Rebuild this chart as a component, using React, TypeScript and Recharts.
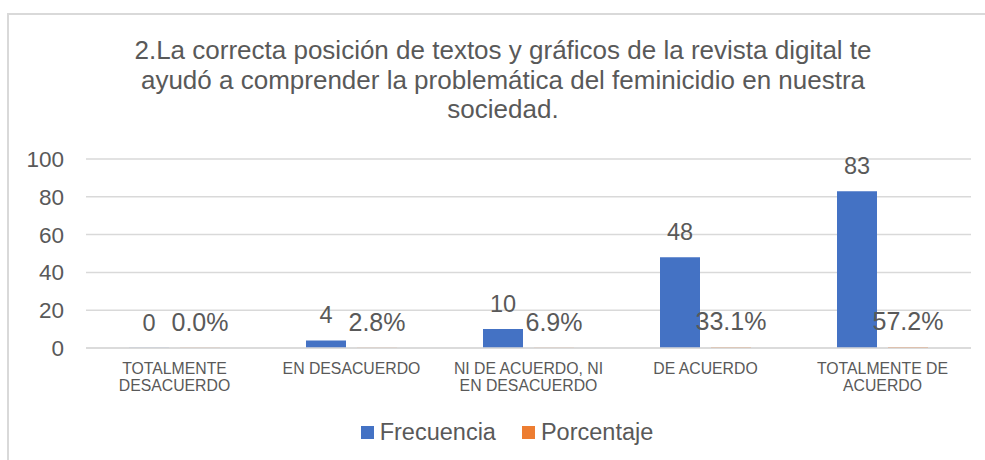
import { BarChart, Bar, XAxis, YAxis, CartesianGrid, Legend, LabelList } from 'recharts'

const categories = [
  'TOTALMENTE DESACUERDO',
  'EN DESACUERDO',
  'NI DE ACUERDO, NI EN DESACUERDO',
  'DE ACUERDO',
  'TOTALMENTE DE ACUERDO',
]
const frecuencia = [0, 4, 10, 48, 83]
const porcentaje = [0, 0.028, 0.069, 0.331, 0.572]
const yTicks = [0, 20, 40, 60, 80, 100]

const titleText =
  '2.La correcta posición de textos y gráficos de la revista digital te ayudó a comprender la problemática del feminicidio en nuestra sociedad.'

const FONT = '"Liberation Sans", Arial, sans-serif'
const TEXT = '#595959'
const BLUE = '#4472C4'
const ORANGE = '#ED7D31'

const data = categories.map((name, i) => ({
  name,
  Frecuencia: frecuencia[i],
  Porcentaje: porcentaje[i],
}))

// split a label into lines of at most maxChars characters
function wrap(label: string, maxChars = 17) {
  const lines: string[] = []
  let cur = ''
  for (const w of label.split(' ')) {
    const next = cur ? cur + ' ' + w : w
    if (next.length > maxChars && cur) {
      lines.push(cur)
      cur = w
    } else {
      cur = next
    }
  }
  if (cur) lines.push(cur)
  return lines
}

function CategoryTick(props: any) {
  const { x, y, payload } = props
  const lines = wrap(payload.value)
  return (
    <text x={x} y={y} textAnchor="middle" fill={TEXT} fontSize={15.8} fontFamily={FONT}>
      {lines.map((l, i) => (
        <tspan key={i} x={x} dy={i === 0 ? 18 : 17}>
          {l}
        </tspan>
      ))}
    </text>
  )
}

function LegendContent(props: any) {
  const items = props.payload || []
  return (
    <div style={{ display: 'flex', justifyContent: 'center', gap: 26, fontFamily: FONT }}>
      {items.map((it: any) => (
        <div key={it.value} style={{ display: 'flex', alignItems: 'center', color: TEXT, fontSize: 23.5, lineHeight: '27px' }}>
          <span style={{ width: 13, height: 13, background: it.color, marginRight: 6, display: 'inline-block' }} />
          {it.value}
        </div>
      ))}
    </div>
  )
}

export default function App() {
  return (
    <div style={{ position: 'absolute', left: 0, top: 0, width: 985, height: 460, overflow: 'hidden', background: '#fff' }}>
      <div
        style={{
          position: 'absolute',
          left: 7,
          top: 13,
          width: 1100,
          height: 500,
          borderTop: '2px solid #d9d9d9',
          borderLeft: '2px solid #d9d9d9',
        }}
      />
      <div
        style={{
          position: 'absolute',
          left: 0,
          top: 36,
          width: 1006,
          display: 'flex',
          justifyContent: 'center',
        }}
      >
        <div style={{ width: 790, textAlign: 'center', fontFamily: FONT, fontSize: 26, lineHeight: '29.5px', color: TEXT }}>
          {titleText}
        </div>
      </div>
      <div style={{ position: 'absolute', left: 0, top: 0 }}>
        <BarChart
          width={985}
          height={460}
          data={data}
          margin={{ top: 159, right: 14, bottom: 52, left: 0 }}
          barGap={11}
          barCategoryGap={43}
        >
          <CartesianGrid vertical={false} stroke="#d9d9d9" strokeWidth={1.5} />
          <XAxis
            dataKey="name"
            axisLine={{ stroke: '#d9d9d9', strokeWidth: 1.5 }}
            tickLine={false}
            interval={0}
            height={60}
            tick={<CategoryTick />}
          />
          <YAxis
            domain={[0, 100]}
            ticks={yTicks}
            interval={0}
            width={86}
            axisLine={false}
            tickLine={false}
            tickMargin={16}
            tick={{ fill: TEXT, fontSize: 22.5, fontFamily: FONT }}
          />
          <Legend
            layout="horizontal"
            align="center"
            verticalAlign="middle"
            content={<LegendContent />}
            wrapperStyle={{ left: 0, top: 419, width: 1014 }}
          />
          <Bar dataKey="Frecuencia" fill={BLUE} barSize={40} minPointSize={0.2} isAnimationActive={false}>
            <LabelList dataKey="Frecuencia" position="top" offset={17} fill={TEXT} fontSize={23.5} fontFamily={FONT} />
          </Bar>
          <Bar dataKey="Porcentaje" fill={ORANGE} barSize={40} minPointSize={0.2} isAnimationActive={false}>
            <LabelList
              dataKey="Porcentaje"
              position="top"
              offset={17}
              fill={TEXT}
              fontSize={25}
              fontFamily={FONT}
              formatter={(v: any) => `${(Number(v) * 100).toFixed(1)}%`}
            />
          </Bar>
        </BarChart>
      </div>
    </div>
  )
}
